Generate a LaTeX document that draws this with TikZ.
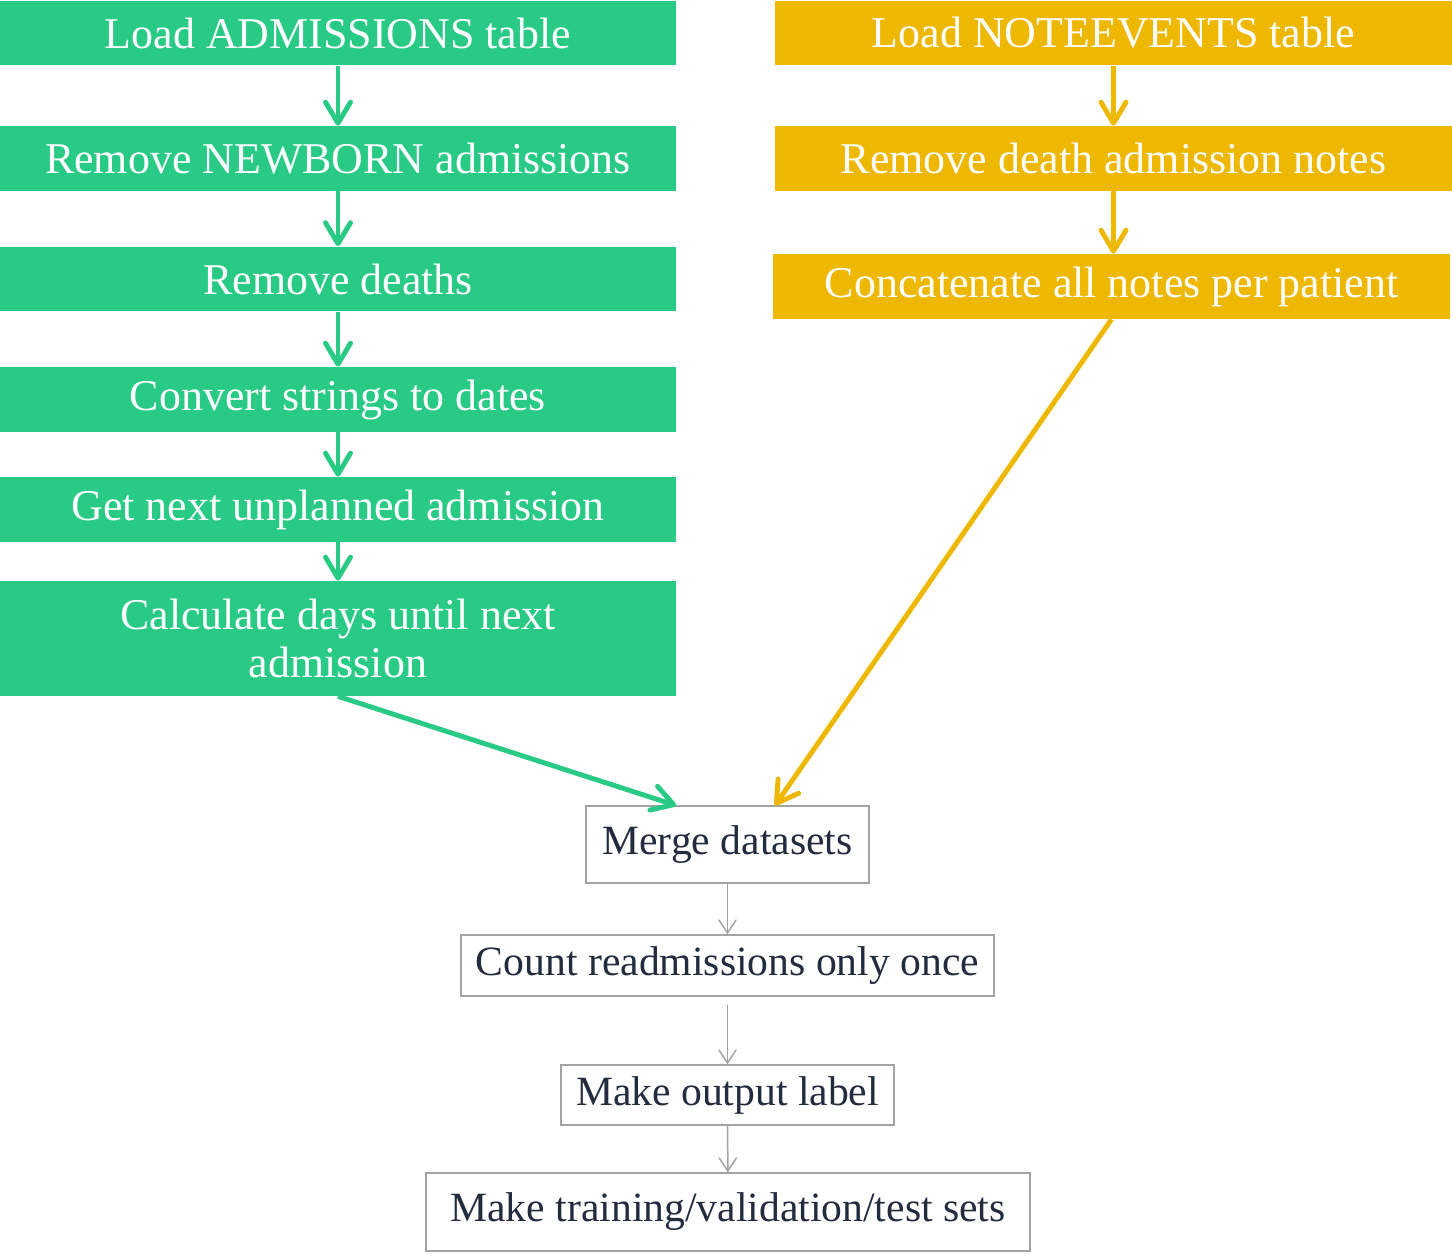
\documentclass[tikz,border=0pt]{standalone}
\usepackage{fontspec}
\setmainfont{Liberation Serif}
\usetikzlibrary{arrows.meta}

\definecolor{mintgreen}{HTML}{28CA86}
\definecolor{gold}{HTML}{EEB700}
\definecolor{ink}{HTML}{232B3E}
\definecolor{edgegray}{HTML}{A3A3A3}

\tikzset{
  stepfont/.style={font=\fontsize{25}{27}\selectfont, align=center, inner sep=0pt},
  greenbox/.style={stepfont, fill=mintgreen, text=white, minimum width=13.52cm, minimum height=1.3cm},
  goldbox/.style={stepfont, fill=gold, text=white, minimum width=13.54cm, minimum height=1.3cm},
  plainbox/.style={stepfont, font=\fontsize{23.7}{27}\selectfont, draw=edgegray, line width=0.7pt, fill=white, text=ink},
  greenarrow/.style={mintgreen, line width=2.8pt, -{Straight Barb[length=0.42cm,width=0.5cm,line cap=round,line join=round]}},
  goldarrow/.style={greenarrow, gold},
  grayarrow/.style={edgegray, line width=0.85pt, -{Straight Barb[length=0.26cm,width=0.34cm,line cap=round]}},
}

\begin{document}
\begin{tikzpicture}[x=0.02cm, y=-0.02cm]
\useasboundingbox (0,0) rectangle (1452,1253);

% admissions branch
\node[greenbox] (adm)   at (338,33)    {Load ADMISSIONS table};
\node[greenbox] (nbrn)  at (338,158.5) {Remove NEWBORN admissions};
\node[greenbox] (dth)   at (338,279)   {Remove deaths};
\node[greenbox] (dates) at (338,399.5) {Convert strings to dates};
\node[greenbox] (nxt)   at (338,509.5) {Get next unplanned admission};
\node[greenbox, minimum height=2.3cm] (days) at (338,638.5) {Calculate days until next\\admission};

% notes branch
\node[goldbox] (notes)  at (1113.5,33)    {Load NOTEEVENTS table};
\node[goldbox] (rmnote) at (1113.5,158.5) {Remove death admission notes};
\node[goldbox] (concat) at (1111.5,286.5) {Concatenate all notes per patient};

% merged part
\node[plainbox, minimum width=5.66cm, minimum height=1.54cm]  (merge) at (727.5,844.5) {Merge datasets};
\node[plainbox, minimum width=10.66cm, minimum height=1.22cm] (count) at (727.5,965.5) {Count readmissions only once};
\node[plainbox, minimum width=6.66cm, minimum height=1.2cm]   (label) at (727.5,1095)  {Make output label};
\node[plainbox, minimum width=12.08cm, minimum height=1.56cm] (sets)  at (728,1212)    {Make training/validation/test sets};

\draw[greenarrow] (adm) -- (nbrn);
\draw[greenarrow] (nbrn) -- (dth);
\draw[greenarrow] (dth) -- (dates);
\draw[greenarrow] (dates) -- (nxt);
\draw[greenarrow] (nxt) -- (days);
\draw[greenarrow] (days.south) -- ([xshift=-1.03cm]merge.north);

\draw[goldarrow] (notes) -- (rmnote);
\draw[goldarrow] (rmnote.south) -- (rmnote.south |- concat.north);
\draw[goldarrow] (concat.south) -- ([xshift=0.95cm]merge.north);

\draw[grayarrow] (merge) -- (count);
\draw[grayarrow, shorten <=0.16cm] (count) -- (label);
\draw[grayarrow] (label) -- (sets);
\end{tikzpicture}
\end{document}
